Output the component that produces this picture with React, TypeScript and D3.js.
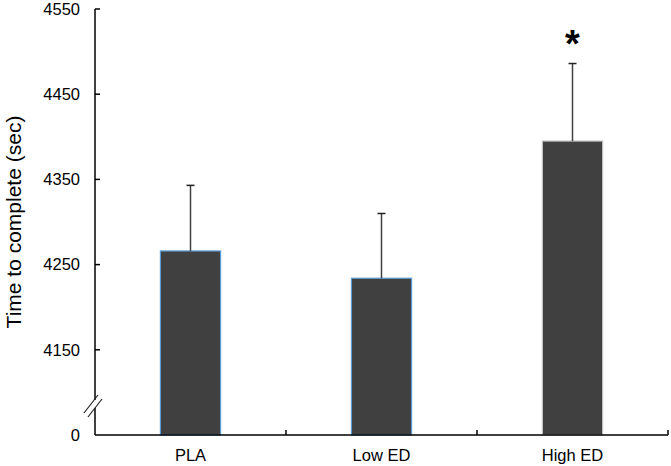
import React from 'react';
import * as d3 from 'd3';

const categories = ['PLA', 'Low ED', 'High ED'];
const means = [4266, 4234, 4395];
const errors = [77, 76, 91];
const tickValues = [4150, 4250, 4350, 4450, 4550];
const outlineColors = ['#5b9bd5', '#5b9bd5', '#bfbfbf'];

const App = () => {
    const width = 671;
    const height = 466;
    const margin = {top: 9, right: 3, bottom: 31, left: 95};
    const plotBottom = height - margin.bottom;

    // bottom of the axis stands for 4050 (shown as 0 behind a break)
    const yScale = d3.scaleLinear().domain([4050, 4550]).range([plotBottom, margin.top]);
    const xScale = d3
        .scaleBand()
        .domain(categories)
        .range([margin.left, width - margin.right])
        .paddingInner(0)
        .paddingOuter(0);
    const barWidth = xScale.bandwidth() * 0.315;
    const font = 'Liberation Sans, Arial, sans-serif';

    const breakY = 405;

    return (
        <svg width={width} height={height} style={{display: 'block', position: 'absolute', left: 0, top: 0}}>
            {/* bars */}
            {categories.map((c, i) => {
                const cx = xScale(c) + xScale.bandwidth() / 2;
                const top = yScale(means[i]);
                const errTop = yScale(means[i] + errors[i]);
                return (
                    <g key={c}>
                        <rect
                            x={cx - barWidth / 2}
                            y={top}
                            width={barWidth}
                            height={plotBottom - top}
                            fill="#404040"
                            stroke={outlineColors[i]}
                            strokeWidth={1.2}
                        />
                        <line x1={cx} x2={cx} y1={top} y2={errTop} stroke="#404040" strokeWidth={1.5} />
                        <line x1={cx - 4} x2={cx + 4} y1={errTop} y2={errTop} stroke="#222" strokeWidth={1.5} />
                    </g>
                );
            })}

            {/* y axis */}
            <line x1={margin.left} x2={margin.left} y1={margin.top} y2={plotBottom} stroke="#000" strokeWidth={1.5} />
            {tickValues.map((t) => (
                <g key={t}>
                    <line x1={margin.left} x2={margin.left + 5} y1={yScale(t)} y2={yScale(t)} stroke="#000" strokeWidth={1.5} />
                    <text x={80} y={yScale(t)} dy="0.35em" textAnchor="end" fontFamily={font} fontSize={16.5} fill="#000">
                        {t}
                    </text>
                </g>
            ))}
            <text x={80} y={plotBottom} dy="0.35em" textAnchor="end" fontFamily={font} fontSize={16.5} fill="#000">
                0
            </text>

            {/* axis break */}
            <rect x={margin.left - 2} y={breakY - 5} width={4} height={8} fill="#fff" />
            <line x1={84} x2={98} y1={breakY + 8} y2={breakY - 10} stroke="#222" strokeWidth={1.2} />
            <line x1={88} x2={102} y1={breakY + 12} y2={breakY - 6} stroke="#222" strokeWidth={1.2} />

            {/* x axis */}
            <line x1={margin.left} x2={width - margin.right} y1={plotBottom} y2={plotBottom} stroke="#000" strokeWidth={1.5} />
            {categories.map((c) => (
                <line
                    key={c}
                    x1={xScale(c) + xScale.bandwidth()}
                    x2={xScale(c) + xScale.bandwidth()}
                    y1={plotBottom}
                    y2={plotBottom - 5}
                    stroke="#000"
                    strokeWidth={1.5}
                />
            ))}
            {categories.map((c) => (
                <text
                    key={c}
                    x={xScale(c) + xScale.bandwidth() / 2}
                    y={461}
                    textAnchor="middle"
                    fontFamily={font}
                    fontSize={16.5}
                    fill="#000"
                >
                    {c}
                </text>
            ))}

            {/* axis title */}
            <text
                transform={`translate(21,${(margin.top + plotBottom) / 2}) rotate(-90)`}
                textAnchor="middle"
                fontFamily={font}
                fontSize={21}
                fill="#000"
            >
                Time to complete (sec)
            </text>

            {/* significance mark */}
            <text
                x={xScale('High ED') + xScale.bandwidth() / 2}
                y={57}
                textAnchor="middle"
                fontFamily={font}
                fontSize={38}
                fontWeight="bold"
                fill="#000"
            >
                *
            </text>
        </svg>
    );
};

export default App;
